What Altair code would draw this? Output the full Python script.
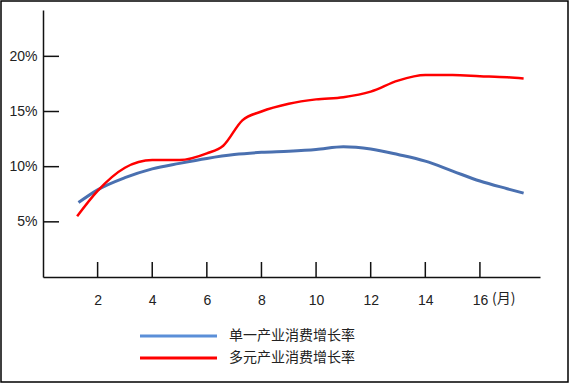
import altair as alt
import pandas as pd

# ---- data ----
single_x = [1.3, 2, 3, 4, 5, 6, 7, 8, 9, 10, 11, 12, 13, 14, 15, 16, 17, 17.6]
single_y = [6.75, 7.9, 9.0, 9.8, 10.3, 10.75, 11.1, 11.3, 11.4, 11.55, 11.8, 11.6, 11.1, 10.5, 9.6, 8.7, 8.0, 7.6]
multi_x = [1.25, 2, 3, 4, 5, 6, 6.6, 7.3, 8, 9, 10, 11, 12, 13, 14, 15, 16, 17, 17.6]
multi_y = [5.5, 7.8, 9.9, 10.6, 10.6, 11.2, 11.9, 14.2, 15.0, 15.7, 16.1, 16.3, 16.8, 17.8, 18.3, 18.3, 18.2, 18.1, 18.0]
x_ticks = [2, 4, 6, 8, 10, 12, 14, 16]
y_ticks = [5, 10, 15, 20]
series_names = ["单一产业消费增长率", "多元产业消费增长率"]
unit_label = "(月)"

FONT = "Liberation Sans, Arial, Noto Sans CJK SC"
CJK = "Noto Sans CJK SC"
TXT = "#222222"

df = pd.DataFrame(
    [{"x": a, "y": b, "s": series_names[0]} for a, b in zip(single_x, single_y)]
    + [{"x": a, "y": b, "s": series_names[1]} for a, b in zip(multi_x, multi_y)]
)

W, H = 497, 267
xs = alt.Scale(domain=[0, 18.2], nice=False, zero=False)
ys = alt.Scale(domain=[0, 24.2], nice=False, zero=False)

base = alt.Chart(df)

axes = base.mark_point(opacity=0).encode(
    x=alt.X("x:Q", scale=xs,
            axis=alt.Axis(values=x_ticks, title=None, grid=False, ticks=False,
                          domainColor="#111", domainWidth=1.5, labelFont=FONT,
                          labelFontSize=14, labelColor=TXT, labelPadding=16,
                          labelFlush=False)),
    y=alt.Y("y:Q", scale=ys,
            axis=alt.Axis(values=y_ticks, title=None, grid=False, ticks=False,
                          domainColor="#111", domainWidth=1.5, labelFont=FONT,
                          labelFontSize=14, labelColor=TXT, labelPadding=6,
                          labelExpr="datum.value + '%'")),
)

single = alt.Chart(df[df.s == series_names[0]]).mark_line(
    color="#4a70b0", strokeWidth=3, interpolate="monotone"
).encode(x=alt.X("x:Q", scale=xs), y=alt.Y("y:Q", scale=ys))

multi = alt.Chart(df[df.s == series_names[1]]).mark_line(
    color="#ff0000", strokeWidth=2.5, interpolate="monotone"
).encode(x=alt.X("x:Q", scale=xs), y=alt.Y("y:Q", scale=ys))

ytick_rules = alt.Chart(pd.DataFrame({"t": y_ticks})).mark_rule(
    color="#111", strokeWidth=1.5
).encode(y=alt.Y("t:Q", scale=ys), x=alt.value(0), x2=alt.value(16))

xtick_rules = alt.Chart(pd.DataFrame({"t": x_ticks})).mark_rule(
    color="#111", strokeWidth=1.5
).encode(x=alt.X("t:Q", scale=xs), y=alt.value(H - 15), y2=alt.value(H))

unit = alt.Chart(pd.DataFrame({"t": [x_ticks[-1]], "lab": [unit_label]})).mark_text(
    font=CJK, fontSize=14, color=TXT, align="left", baseline="middle", dx=12, dy=22
).encode(x=alt.X("t:Q", scale=xs), y=alt.value(H), text="lab:N")

# legend (manual)
leg1 = alt.Chart(pd.DataFrame({"a": [0]})).mark_rule(color="#5b8fd8", strokeWidth=3).encode(
    x=alt.value(97), x2=alt.value(174), y=alt.value(326))
leg2 = alt.Chart(pd.DataFrame({"a": [0]})).mark_rule(color="#ff0000", strokeWidth=3).encode(
    x=alt.value(97), x2=alt.value(174), y=alt.value(348))
legt = alt.Chart(pd.DataFrame({"lab": series_names, "yy": [326, 348]})).mark_text(
    font=FONT, fontSize=14, color=TXT, align="left", baseline="middle"
).encode(x=alt.value(186), y=alt.Y("yy:Q", scale=None), text="lab:N")

border = alt.Chart(pd.DataFrame({"a": [0]})).mark_rect(
    fill=None, stroke="#000", strokeWidth=1.5, clip=False
).encode(x=alt.value(-42), x2=alt.value(525), y=alt.value(-9), y2=alt.value(372))

chart = alt.layer(
    axes, border, ytick_rules, xtick_rules, single, multi, unit, leg1, leg2, legt
).properties(
    width=W, height=H,
    background="white",
    padding={"left": 43, "top": 10, "right": 30, "bottom": 107},
    autosize=alt.AutoSizeParams(type="none"),
).configure_view(stroke="transparent", strokeWidth=0)

chart.save("out.html", embed_options={"renderer": "svg", "actions": False})
